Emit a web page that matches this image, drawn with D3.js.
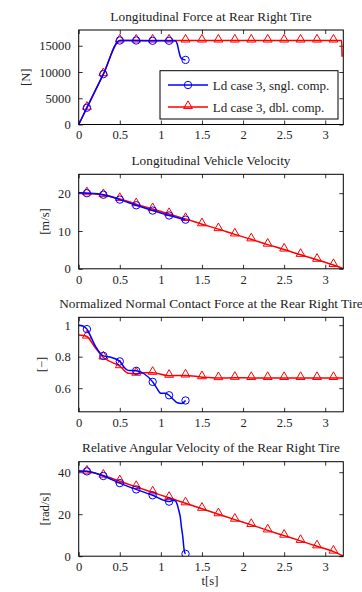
<!DOCTYPE html>
<html><head><meta charset="utf-8">
<script src="https://cdn.jsdelivr.net/npm/d3@7"></script>
<style>
html,body{margin:0;padding:0;background:#fff;}
svg{display:block;}
text{font-family:"Liberation Serif","Times New Roman",serif;fill:#222;}
</style></head><body>
<script>
// ---------- DATA ----------
const xTicks = [0, 0.5, 1, 1.5, 2, 2.5, 3];
const legendLabels = ["Ld case 3, sngl. comp.", "Ld case 3, dbl. comp."];
const titles = [
  "Longitudinal Force at Rear Right Tire",
  "Longitudinal Vehicle Velocity",
  "Normalized Normal Contact Force at the Rear Right Tire",
  "Relative Angular Velocity of the Rear Right Tire"
];
const yLabels = ["[N]", "[m/s]", "[\u2212]", "[rad/s]"];
const yTicks1 = [0, 5000, 10000, 15000];
const yTicks2 = [0, 10, 20];
const yTicks3 = [0.6, 0.8, 1];
const yTicks4 = [0, 20, 40];
const yDomains = [[0, 18000], [0, 25], [0.45, 1.05], [0, 45]];
const xDomain = [0, 3.22];

const blueMarkT = [0.1, 0.3, 0.5, 0.7, 0.9, 1.1, 1.3];
const redMarkT = [0.1, 0.3, 0.5, 0.7, 0.9, 1.1, 1.3, 1.5, 1.7, 1.9, 2.1, 2.3, 2.5, 2.7, 2.9, 3.1];

// Panel 1: longitudinal force
const f_blueT = [0, 0.1, 0.3, 0.5, 0.7, 0.9, 1.1, 1.15, 1.18, 1.2, 1.22, 1.24, 1.27, 1.3];
const f_blueV = [0, 3200, 9600, 16000, 16000, 15950, 15950, 16000, 15900, 15300, 13900, 12800, 12400, 12300];
const f_redT = [0, 0.1, 0.3, 0.5, 0.7, 0.9, 1.1, 1.3, 1.5, 1.7, 1.9, 2.1, 2.3, 2.5, 2.7, 2.9, 3.1, 3.2, 3.205];
const f_redV = [0, 3200, 9600, 16000, 16000, 16000, 16000, 16000, 16000, 16000, 16000, 16000, 16000, 16000, 16000, 16000, 16000, 16000, 12900];

// Panel 2: vehicle velocity
const v_blueT = [0, 0.1, 0.3, 0.5, 0.7, 0.9, 1.1, 1.3];
const v_blueV = [20.1, 20.0, 19.6, 18.3, 16.8, 15.4, 14.1, 13.0];
const v_redT = [0, 0.1, 0.3, 0.5, 0.7, 0.9, 1.1, 1.3, 1.5, 1.7, 1.9, 2.1, 2.3, 2.5, 2.7, 2.9, 3.1, 3.22];
const v_redV = [20.1, 20.0, 19.5, 18.5, 17.1, 15.8, 14.5, 13.2, 11.8, 10.5, 9.1, 7.8, 6.4, 5.1, 3.7, 2.4, 1.0, 0];

// Panel 3: normalized normal contact force
const n_blueT = [0, 0.05, 0.1, 0.2, 0.3, 0.4, 0.5, 0.55, 0.6, 0.7, 0.8, 0.9, 0.95, 1.0, 1.05, 1.1, 1.15, 1.2, 1.25, 1.3];
const n_blueV = [1.0, 0.995, 0.975, 0.87, 0.805, 0.795, 0.77, 0.735, 0.713, 0.71, 0.69, 0.64, 0.6, 0.567, 0.567, 0.555, 0.53, 0.507, 0.503, 0.522];
const n_redT = [0, 0.05, 0.1, 0.2, 0.3, 0.4, 0.5, 0.6, 0.7, 0.8, 0.9, 1.1, 1.3, 1.5, 1.7, 1.9, 2.1, 2.3, 2.5, 2.7, 2.9, 3.1, 3.22];
const n_redV = [0.938, 0.935, 0.928, 0.858, 0.795, 0.765, 0.74, 0.695, 0.692, 0.698, 0.698, 0.679, 0.681, 0.670, 0.664, 0.666, 0.665, 0.665, 0.665, 0.665, 0.665, 0.665, 0.665];

// Panel 4: relative angular velocity
const w_blueT = [0, 0.1, 0.3, 0.5, 0.7, 0.9, 1.1, 1.15, 1.18, 1.2, 1.22, 1.235, 1.25, 1.266, 1.28, 1.29, 1.3];
const w_blueV = [40.6, 40.4, 38.2, 34.8, 31.8, 29.0, 26.0, 26.6, 26.2, 24.5, 21.5, 19, 14, 9.5, 4, 1.8, 1.1];
const w_redT = [0, 0.1, 0.3, 0.5, 0.7, 0.9, 1.1, 1.3, 1.5, 1.7, 1.9, 2.1, 2.3, 2.5, 2.7, 2.9, 3.1, 3.22];
const w_redV = [40.6, 40.3, 38.4, 35.7, 33.0, 30.4, 27.8, 25.2, 22.6, 20.0, 17.4, 14.9, 12.3, 9.8, 7.3, 4.7, 2.2, 0];

// ---------- LAYOUT ----------
const W = 362, H = 592;
const left = 78.7, right = 343.3;
const panelTops = [30, 174.3, 317.3, 461.7];
const panelH = 94.5;
const BLUE = "#0000ff", RED = "#ff0000";

const panels = [
  {title: titles[0], yl: yLabels[0], ticks: yTicks1, dom: yDomains[0], fmt: d => String(d),
   blue: [f_blueT, f_blueV], red: [f_redT, f_redV], legend: true},
  {title: titles[1], yl: yLabels[1], ticks: yTicks2, dom: yDomains[1], fmt: d => String(d),
   blue: [v_blueT, v_blueV], red: [v_redT, v_redV]},
  {title: titles[2], yl: yLabels[2], ticks: yTicks3, dom: yDomains[2], fmt: d => String(d),
   blue: [n_blueT, n_blueV], red: [n_redT, n_redV]},
  {title: titles[3], yl: yLabels[3], ticks: yTicks4, dom: yDomains[3], fmt: d => String(d),
   blue: [w_blueT, w_blueV], red: [w_redT, w_redV], xlabel: "t[s]"}
];

const svg = d3.select("body").append("svg").attr("width", W).attr("height", H);
const defs = svg.append("defs");

const x = d3.scaleLinear().domain(xDomain).range([left, right]);
const tri = d3.symbol().type(d3.symbolTriangle).size(34);

function interp(T, V, t) {
  for (let i = 0; i < T.length - 1; i++) {
    if (t >= T[i] && t <= T[i + 1]) {
      const f = (t - T[i]) / (T[i + 1] - T[i]);
      return V[i] + f * (V[i + 1] - V[i]);
    }
  }
  return V[V.length - 1];
}

panels.forEach((p, i) => {
  const top = panelTops[i], bottom = top + panelH;
  const y = d3.scaleLinear().domain(p.dom).range([bottom, top]);
  const g = svg.append("g");
  const clipId = "clip" + i;
  defs.append("clipPath").attr("id", clipId).append("rect")
    .attr("x", left).attr("y", top).attr("width", right - left).attr("height", panelH);

  // title
  g.append("text").attr("x", (left + right) / 2).attr("y", top - 9.5)
    .attr("text-anchor", "middle").style("font-size", "13.3px").text(p.title);

  // axes
  const axB = g.append("g").attr("transform", `translate(0,${bottom})`)
    .call(d3.axisBottom(x).tickValues(xTicks).tickSizeInner(-4).tickSizeOuter(0).tickPadding(6).tickFormat(d => String(d)));
  const axT = g.append("g").attr("transform", `translate(0,${top})`)
    .call(d3.axisTop(x).tickValues(xTicks).tickSizeInner(-4).tickSizeOuter(0).tickFormat(""));
  const axL = g.append("g").attr("transform", `translate(${left},0)`)
    .call(d3.axisLeft(y).tickValues(p.ticks).tickSizeInner(-4).tickSizeOuter(0).tickPadding(8).tickFormat(p.fmt));
  const axR = g.append("g").attr("transform", `translate(${right},0)`)
    .call(d3.axisRight(y).tickValues(p.ticks).tickSizeInner(-4).tickSizeOuter(0).tickFormat(""));
  [axB, axT, axL, axR].forEach(a => {
    a.select(".domain").remove();
    a.selectAll("line").attr("stroke", "#000").attr("stroke-width", 0.8);
    a.selectAll("text").style("font-size", "12.6px").style("font-family", '"Liberation Serif",serif').attr("fill", "#222");
  });

  // series
  const line = d3.line().x(d => x(d[0])).y(d => y(d[1])).curve(d3.curveMonotoneX);
  const plot = g.append("g").attr("clip-path", `url(#${clipId})`);
  const redPts = p.red[0].map((t, k) => [t, p.red[1][k]]);
  const bluePts = p.blue[0].map((t, k) => [t, p.blue[1][k]]);
  plot.append("path").attr("d", line(redPts)).attr("fill", "none").attr("stroke", RED).attr("stroke-width", 1.5);
  plot.selectAll(".rm").data(redMarkT).enter().append("path")
    .attr("transform", t => `translate(${x(t)},${y(interp(p.red[0], p.red[1], t)) - 1})`)
    .attr("d", tri).attr("fill", "none").attr("stroke", RED).attr("stroke-width", 1);
  plot.append("path").attr("d", line(bluePts)).attr("fill", "none").attr("stroke", BLUE).attr("stroke-width", 1.5);
  plot.selectAll(".bm").data(blueMarkT).enter().append("circle")
    .attr("cx", t => x(t)).attr("cy", t => y(interp(p.blue[0], p.blue[1], t)))
    .attr("r", 3.7).attr("fill", "none").attr("stroke", BLUE).attr("stroke-width", 1);

  // box
  g.append("rect").attr("x", left).attr("y", top).attr("width", right - left).attr("height", panelH)
    .attr("fill", "none").attr("stroke", "#000").attr("stroke-width", 1);

  // y label
  let maxW = 0;
  axL.selectAll("text").each(function () { maxW = Math.max(maxW, this.getComputedTextLength()); });
  const ylx = left - 8 - maxW - 13.5;
  g.append("text").attr("transform", `translate(${ylx},${(top + bottom) / 2}) rotate(-90)`)
    .attr("text-anchor", "middle").attr("dy", "0.35em").style("font-size", "12.6px").text(p.yl);

  if (p.xlabel) {
    g.append("text").attr("x", (left + right) / 2 - 1).attr("y", bottom + 28.5)
      .attr("text-anchor", "middle").style("font-size", "12.6px").text(p.xlabel);
  }

  if (p.legend) {
    const lx = 160, ly = 70.7, lw = 178, lh = 48.3;
    const lg = g.append("g");
    lg.append("rect").attr("x", lx).attr("y", ly).attr("width", lw).attr("height", lh)
      .attr("fill", "#fff").attr("stroke", "#000").attr("stroke-width", 1);
    const rows = [ly + 14.3, ly + 36.3];
    [BLUE, RED].forEach((c, k) => {
      lg.append("line").attr("x1", lx + 8).attr("x2", lx + 48).attr("y1", rows[k]).attr("y2", rows[k])
        .attr("stroke", c).attr("stroke-width", 1.5);
      if (k === 0) lg.append("circle").attr("cx", lx + 28).attr("cy", rows[k]).attr("r", 3.7)
        .attr("fill", "none").attr("stroke", c);
      else lg.append("path").attr("transform", `translate(${lx + 28},${rows[k] - 1})`).attr("d", tri)
        .attr("fill", "none").attr("stroke", c);
      lg.append("text").attr("x", lx + 52.7).attr("y", rows[k]).attr("dy", "0.35em")
        .style("font-size", "13px").text(legendLabels[k]);
    });
  }
});
</script>
</body></html>
